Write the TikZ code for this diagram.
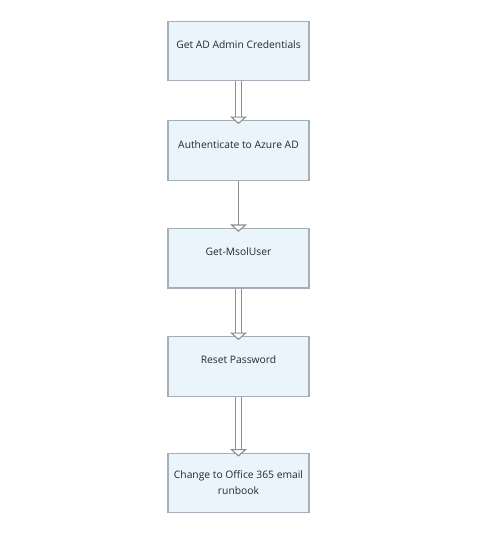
\documentclass[tikz,border=0pt]{standalone}
\usepackage{fontspec}
\setmainfont{Open Sans}
\usetikzlibrary{calc}
\definecolor{boxfill}{HTML}{EAF4FB}
\definecolor{boxline}{HTML}{A6AFB8}
\definecolor{conn}{HTML}{8E8E8E}
\definecolor{txtcol}{HTML}{1E2A36}
\tikzset{
  stepbox/.style={draw=boxline, line width=1.2pt, fill=boxfill, minimum width=141pt, minimum height=59.5pt, inner sep=0pt},
  lbl/.style={font=\fontsize{10.3}{16}\selectfont, text=txtcol, align=center, inner sep=0pt},
  dbl/.style={draw=conn, line width=1.1pt, double=white, double distance=4.4pt},
  sgl/.style={draw=conn, line width=1.1pt},
  tri/.style={draw=conn, line width=1.1pt, fill=white, line join=miter},
}
\newcommand{\headtri}[1]{\draw[tri] ($(#1.north)+(-7,-3)$) -- ($(#1.north)+(7,-3)$) -- ($(#1.north)+(0,3.2)$) -- cycle;}
\begin{document}
\begin{tikzpicture}[x=1pt,y=-1pt]
\useasboundingbox (0,0) rectangle (488,533);
\fill[white] (0,0) rectangle (488,533);
\node[stepbox] (b1) at (238.5,51) {};
\node[stepbox] (b2) at (238.5,150.5) {};
\node[stepbox] (b3) at (238.5,258.3) {};
\node[stepbox] (b4) at (238.5,366.5) {};
\node[stepbox] (b5) at (238.5,483) {};
\node[lbl] (t1) at ($(b1.north)+(0,24)$) {Get AD Admin Credentials};
\node[lbl] (t2) at ($(b2.north)+(0,24)$) {Authenticate to Azure AD};
\node[lbl] (t3) at ($(b3.north)+(0,24)$) {Get-MsolUser};
\node[lbl] (t4) at ($(b4.north)+(0,23.5)$) {Reset Password};
\node[lbl] (t5) at ($(b5.north)+(0,29.5)$) {Change to Office 365 email\\runbook};
\draw[dbl] (b1.south) -- ($(b2.north)+(0,-3)$);
\draw[sgl] (b2.south) -- ($(b3.north)+(0,-3)$);
\draw[dbl] (b3.south) -- ($(b4.north)+(0,-3)$);
\draw[dbl] (b4.south) -- ($(b5.north)+(0,-3)$);
\headtri{b2}
\headtri{b3}
\headtri{b4}
\headtri{b5}
\end{tikzpicture}
\end{document}
